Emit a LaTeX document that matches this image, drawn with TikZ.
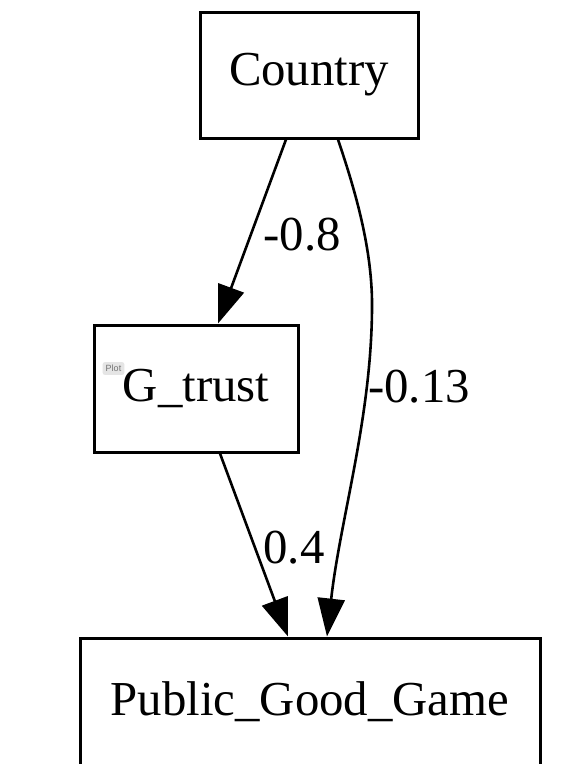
\documentclass[tikz,border=0pt]{standalone}
\usepackage{fontspec}
\setmainfont{Liberation Serif}
\newfontfamily\badgefont{Liberation Sans}
\usetikzlibrary{arrows.meta,calc}
\begin{document}
\begin{tikzpicture}[x=1pt,y=-1pt,
  varbox/.style={draw=black,line width=3pt,fill=white,inner sep=0pt,
    font=\fontsize{48.8}{58}\selectfont},
  edge/.style={line width=2.6pt,-{Triangle[length=38pt,width=27pt]}},
  weight/.style={font=\fontsize{48.8}{58}\selectfont,inner sep=0pt},
  badge/.style={fill=black!10,rounded corners=2pt,inner xsep=3pt,inner ysep=3pt,
    text=black!55,font=\badgefont\fontsize{9}{10}\selectfont}]
\useasboundingbox (0,0) rectangle (576,764);
\fill[white] (0,0) rectangle (576,764);

% variables
\node[varbox,minimum width=218pt,minimum height=126pt] (country) at (309,75) {Country};
\node[varbox,minimum width=204pt,minimum height=127pt] (gtrust) at (196,388.5) {G\_trust};
\node[varbox,minimum width=460pt,minimum height=127pt] (pgg) at (310,701.5) {Public\_Good\_Game};
\node[badge] (plot) at (113.5,368.5) {Plot};

% edge end points on the box borders
\coordinate (c1) at ($(country.south)+(-23,0)$);
\coordinate (c2) at ($(country.south)+(29,0)$);
\coordinate (g1) at ($(gtrust.north)+(22,0)$);
\coordinate (g2) at ($(gtrust.south)+(24,0)$);
\coordinate (p1) at ($(pgg.north)+(-22,0)$);
\coordinate (p2) at ($(pgg.north)+(17,0)$);

% weighted edges
\draw[edge] (c1) -- (g1);
\draw[edge] (c2) .. controls (355,190) and (373,250) .. (372,310)
               .. controls (371,420) and (340,520) .. (p2);
\draw[edge] (g2) -- (p1);

% edge weights
\node[weight] (w1) at (302,235) {-0.8};
\node[weight] (w2) at (419,387) {-0.13};
\node[weight] (w3) at (294,548) {0.4};
\end{tikzpicture}
\end{document}
